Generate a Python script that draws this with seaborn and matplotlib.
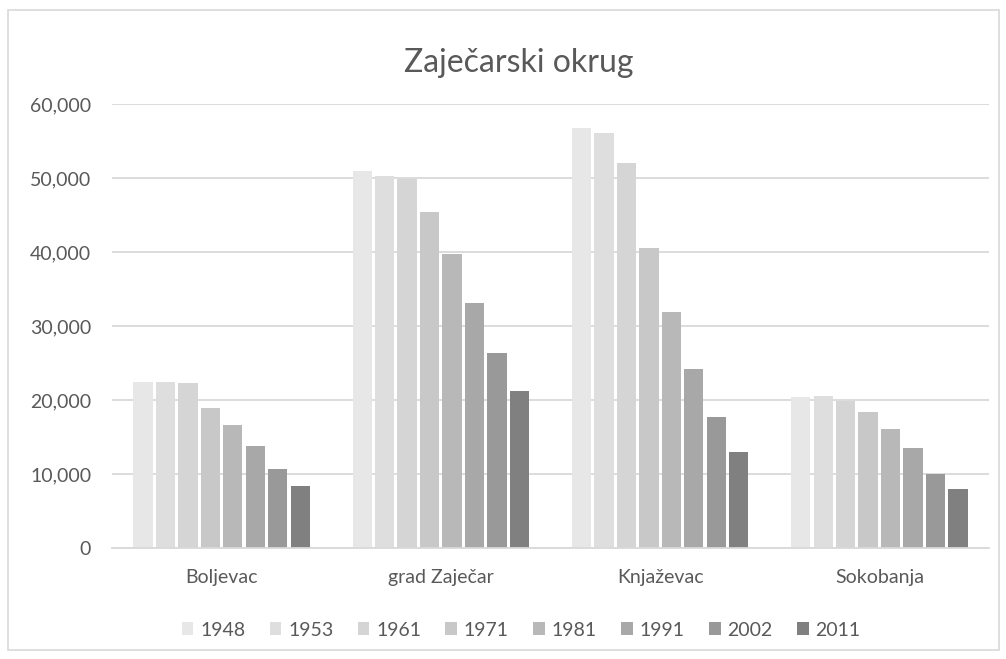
import matplotlib
matplotlib.use("Agg")
import matplotlib.pyplot as plt
import matplotlib.ticker as mticker
from matplotlib.patches import Rectangle
import seaborn as sns
import pandas as pd

# Population of the municipalities of the Zaječar district by census year
municipalities = ["Boljevac", "grad Zaječar", "Knjaževac", "Sokobanja"]
years = ["1948", "1953", "1961", "1971", "1981", "1991", "2002", "2011"]
boljevac = [22470, 22470, 22340, 18880, 16620, 13830, 10720, 8420]
zajecar = [50950, 50310, 49900, 45360, 39690, 33150, 26400, 21200]
knjazevac = [56710, 56030, 51980, 40600, 31940, 24230, 17750, 13020]
sokobanja = [20360, 20540, 19900, 18380, 16080, 13470, 10040, 7930]

colors = ["#E7E7E7", "#DEDEDE", "#D5D5D5", "#C8C8C8",
          "#B8B8B8", "#A8A8A8", "#999999", "#808080"]

rows = []
for name, vals in zip(municipalities, [boljevac, zajecar, knjazevac, sokobanja]):
    for yr, v in zip(years, vals):
        rows.append({"opština": name, "godina": yr, "stanovnika": v})
df = pd.DataFrame(rows)

sns.set_theme(style="white")
plt.rcParams["font.family"] = ["Lato", "DejaVu Sans"]
text_color = "#595959"

fig = plt.figure(figsize=(10.06, 6.59), dpi=100)
ax = fig.add_axes([0.1113, 0.1684, 0.8718, 0.6738])

sns.barplot(data=df, x="opština", y="stanovnika", hue="godina",
            order=municipalities, hue_order=years, palette=colors,
            width=0.82, gap=0.14, ax=ax, legend=True,
            edgecolor="none", saturation=1)

ax.set_ylim(0, 60000)
ax.set_xlim(-0.5, len(municipalities) - 0.5)
ax.yaxis.set_major_locator(mticker.MultipleLocator(10000))
ax.yaxis.set_major_formatter(mticker.FuncFormatter(lambda v, p: f"{int(v):,}"))
ax.grid(axis="y", color="#D9D9D9", linewidth=1.3)
ax.set_axisbelow(True)
for s in ["top", "right", "left"]:
    ax.spines[s].set_visible(False)
ax.spines["bottom"].set_color("#D9D9D9")
ax.spines["bottom"].set_linewidth(1.3)
ax.tick_params(axis="both", length=0, colors=text_color, labelsize=14)
ax.tick_params(axis="y", pad=15)
ax.tick_params(axis="x", pad=15)
ax.set_xlabel("")
ax.set_ylabel("")

fig.text(0.5155, 0.905, "Zaječarski okrug", ha="center", va="center",
         fontsize=23, color=text_color)

handles, labels = ax.get_legend_handles_labels()
ax.legend_.remove()
fig.legend(handles, labels, loc="center", bbox_to_anchor=(0.518, 0.044),
           ncol=8, frameon=False, fontsize=14, labelcolor=text_color,
           handlelength=0.6, handleheight=0.6, handletextpad=0.35,
           columnspacing=1.25)

# light frame around the whole chart
fig.patches.append(Rectangle((0.008, 0.013), 0.985, 0.972, transform=fig.transFigure,
                             fill=False, edgecolor="#D9D9D9", linewidth=1.2))

fig.savefig("out.png", dpi=100, facecolor="white")
